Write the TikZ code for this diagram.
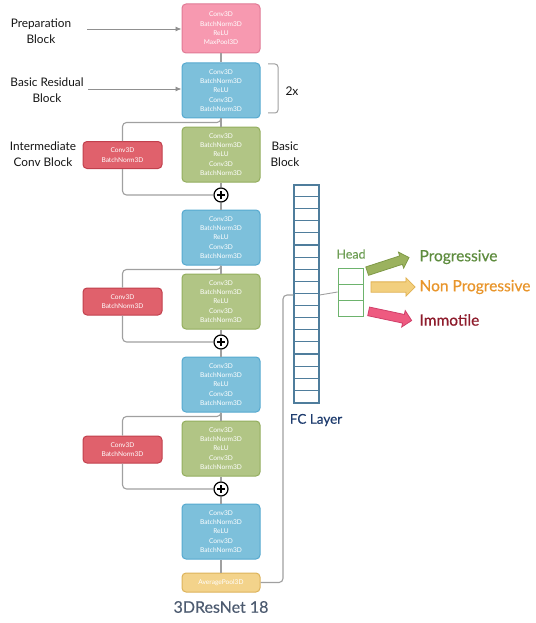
\documentclass[tikz,border=0pt]{standalone}
\usepackage{fontspec}
\setmainfont{Lato}
\usetikzlibrary{shapes.arrows,calc,arrows.meta}
\definecolor{pinkF}{HTML}{F799B0}\definecolor{pinkD}{HTML}{E07A95}
\definecolor{blueF}{HTML}{7DC0DB}\definecolor{blueD}{HTML}{56A9CF}
\definecolor{greenF}{HTML}{B1C585}\definecolor{greenD}{HTML}{93AE5E}
\definecolor{redF}{HTML}{E0616C}\definecolor{redD}{HTML}{C1404D}
\definecolor{avgF}{HTML}{F3D38B}\definecolor{avgD}{HTML}{DDB35B}
\definecolor{lineC}{HTML}{A0A0A0}
\definecolor{fcC}{HTML}{4F7D9C}
\definecolor{headC}{HTML}{6DB36D}
\definecolor{headT}{HTML}{6E9E55}
\definecolor{progT}{HTML}{5E8C3E}
\definecolor{nonT}{HTML}{E8952B}
\definecolor{immT}{HTML}{8E1C2C}
\definecolor{resT}{HTML}{4D5B70}
\definecolor{fcT}{HTML}{1E3C6E}
\definecolor{arG}{HTML}{9BB25E}\definecolor{arGD}{HTML}{7F9A48}
\definecolor{arY}{HTML}{F2CF7E}\definecolor{arYD}{HTML}{E0B050}
\definecolor{arP}{HTML}{EE5A80}\definecolor{arPD}{HTML}{D0406A}
\begin{document}
\begin{tikzpicture}[x=1pt,y=-1pt,
  blk/.style={rounded corners=4pt,line width=1pt,minimum width=78pt,minimum height=55pt,inner sep=0pt,
    align=center,text=white,font=\fontsize{6.6}{9.3}\selectfont},
  prepblk/.style={blk,fill=pinkF,draw=pinkD,minimum height=49pt},
  resblk/.style={blk,fill=blueF,draw=blueD},
  basblk/.style={blk,fill=greenF,draw=greenD},
  convblk/.style={blk,fill=redF,draw=redD,minimum width=79pt,minimum height=27pt},
  avgblk/.style={blk,fill=avgF,draw=avgD,minimum height=19pt},
  conn/.style={draw=lineC,line width=1.1pt},
  skip/.style={conn,rounded corners=4pt},
  pointer/.style={draw=lineC!90!black,line width=0.9pt,-{Latex[length=6pt,width=5pt]}},
  plusnode/.style={circle,draw=black,line width=1.2pt,fill=white,minimum size=14pt,inner sep=0pt,
    path picture={\draw[black,line width=1.4pt]
      ([xshift=-4.2pt]path picture bounding box.center) -- ([xshift=4.2pt]path picture bounding box.center)
      ([yshift=-4.2pt]path picture bounding box.center) -- ([yshift=4.2pt]path picture bounding box.center);}},
  lbl/.style={align=center,font=\fontsize{11.8}{16}\selectfont,text=black!92},
  headcell/.style={draw=headC,line width=0.9pt,minimum width=25pt,minimum height=16pt,inner sep=0pt},
  fat/.style={single arrow,minimum height=44pt,inner sep=0pt,single arrow head extend=4pt,
    single arrow tip angle=90,line width=0.8pt},
  outT/.style={anchor=west,font=\fontsize{15.5}{18}\selectfont\addfontfeature{FakeBold=0.5}},
]
\useasboundingbox (0,0) rectangle (535,623);
\def\rb{Conv3D\\BatchNorm3D\\ReLU\\Conv3D\\BatchNorm3D}
\def\cb{Conv3D\\BatchNorm3D}
% main column
\node[prepblk] (prep) at (221,28.5) {Conv3D\\BatchNorm3D\\ReLU\\MaxPool3D};
\node[resblk] (b1) at (221,90.5) {\rb};
\node[basblk] (g1) at (221,154.5) {\rb};
\node[convblk] (r1) at (122.5,155) {\cb};
\node[plusnode] (p1) at (221,195) {};
\node[resblk] (b2) at (221,237.5) {\rb};
\node[basblk] (g2) at (221,301.5) {\rb};
\node[convblk] (r2) at (122.5,301.5) {\cb};
\node[plusnode] (p2) at (221,342) {};
\node[resblk] (b3) at (221,384.5) {\rb};
\node[basblk] (g3) at (221,448.5) {\rb};
\node[convblk] (r3) at (122.5,449.5) {\cb};
\node[plusnode] (p3) at (221,489) {};
\node[resblk] (b4) at (221,531.5) {\rb};
\node[avgblk] (avg) at (221,582.5) {AveragePool3D};
\node[font=\fontsize{16}{18}\selectfont\addfontfeature{FakeBold=0.4},text=resT] (title) at (221,607) {3DResNet 18};
% vertical connectors
\draw[conn] (prep) -- (b1);
\draw[conn] (b1) -- (g1);
\draw[conn] (g1) -- (p1);
\draw[conn] (p1) -- (b2);
\draw[conn] (b2) -- (g2);
\draw[conn] (g2) -- (p2);
\draw[conn] (p2) -- (b3);
\draw[conn] (b3) -- (g3);
\draw[conn] (g3) -- (p3);
\draw[conn] (p3) -- (b4);
\draw[conn] (b4) -- (avg);
% skip connections
\draw[skip] (b1.south) -- ++(0,4) -| (r1.north);
\draw[skip] (r1.south) |- (p1.west);
\draw[skip] (b2.south) -- ++(0,4) -| (r2.north);
\draw[skip] (r2.south) |- (p2.west);
\draw[skip] (b3.south) -- ++(0,4) -| (r3.north);
\draw[skip] (r3.south) |- (p3.west);
% labels
\node[lbl] (lprep) at (41,31) {Preparation\\Block};
\node[lbl] (lres) at (47,90) {Basic Residual\\Block};
\node[lbl] (lint) at (43,154) {Intermediate\\Conv Block};
\node[lbl] (lbas) at (285,154) {Basic\\Block};
\coordinate (a1) at (87,29);
\coordinate (a2) at (88,89);
\draw[pointer] (a1) -- (prep.west |- a1);
\draw[pointer] (a2) -- (b1.west |- a2);
% brace
\draw[draw=lineC,line width=1pt,rounded corners=3pt] (268,64) -- (278,64) -- (278,113) -- (268,113);
\node[font=\fontsize{12}{14}\selectfont,text=black!92] (twox) at (292,91) {2x};
% FC layer
\node[draw=fcC,line width=1.2pt,minimum width=25pt,minimum height=218pt,inner sep=0pt] (fc) at (306.5,294) {};
\foreach \k in {1,...,17}{
  \draw[fcC,line width=1.1pt] ($(fc.north west)+(0,\k*218/18)$) -- ++(25,0);
}
\node[font=\fontsize{13.5}{16}\selectfont\addfontfeature{FakeBold=0.5},text=fcT] (fclbl) at (316,420) {FC Layer};
\coordinate (turn) at (283,295);
\draw[skip] (avg.east) -| (turn) -- (fc.west |- turn);
% head
\node[headcell] (h1) at (350.5,276) {};
\node[headcell] (h2) at (350.5,292) {};
\node[headcell] (h3) at (350.5,308) {};
\node[font=\fontsize{12.5}{14}\selectfont\addfontfeature{FakeBold=0.3},text=headT] (headlbl) at (351,254) {Head};
\draw[conn,line width=0.9pt] (fc.east |- turn) -- (h2.west);
% output arrows
\node[fat,fill=arG,draw=arGD,minimum width=16pt,rotate=18] (ag) at (386,265) {\rule{0pt}{8pt}};
\node[fat,fill=arY,draw=arYD,minimum width=18pt] (ay) at (390.5,287) {\rule{0pt}{9.5pt}};
\node[fat,fill=arP,draw=arPD,minimum width=16pt,rotate=-12] (ap) at (388,315.5) {\rule{0pt}{8pt}};
\node[outT,text=progT] (tprog) at (416,257) {Progressive};
\node[outT,text=nonT] (tnon) at (416,287) {Non Progressive};
\node[outT,text=immT] (timm) at (416,320) {Immotile};
\end{tikzpicture}
\end{document}
